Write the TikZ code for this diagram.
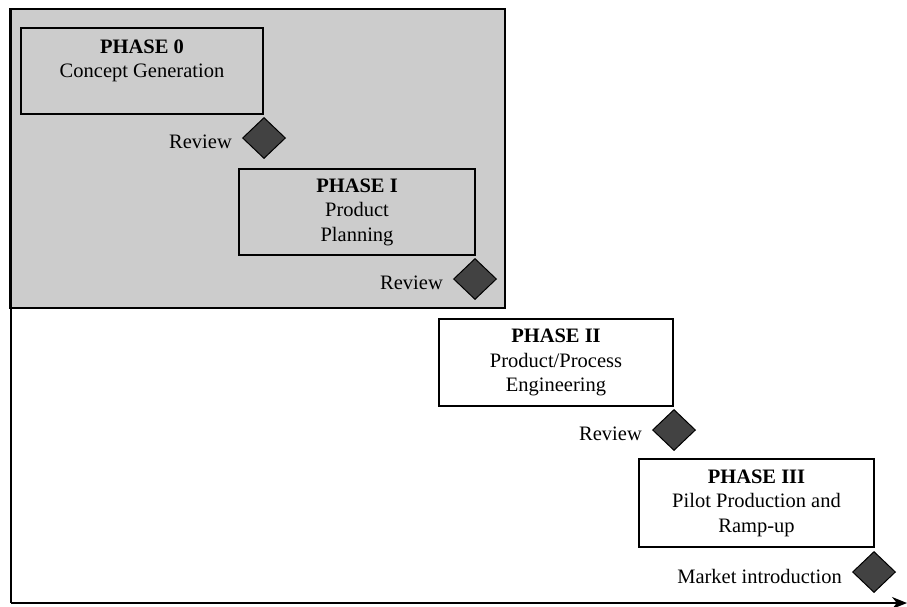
\documentclass[tikz,border=0pt]{standalone}
\usepackage{fontspec}
\setmainfont{Liberation Serif}
\usetikzlibrary{shapes.geometric,arrows.meta}
\definecolor{panelgray}{RGB}{204,204,204}
\definecolor{gatefill}{RGB}{66,66,66}
\tikzset{
  phasebox/.style={draw=black, line width=1.4pt, rectangle, inner sep=0pt,
    align=center, font=\fontsize{20.5}{24.5}\selectfont},
  gate/.style={draw=black, line width=1pt, fill=gatefill, diamond, inner sep=0pt,
    minimum width=43pt, minimum height=41pt},
  gatelabel/.style={anchor=east, inner sep=0pt, font=\fontsize{20.5}{24.5}\selectfont},
  axis/.style={line width=1.8pt, draw=black}
}
\begin{document}
\begin{tikzpicture}[x=1pt,y=-1pt]
  \useasboundingbox (0,0) rectangle (907,606);
  % early phases panel
  \fill[panelgray] (10,9) rectangle (505,308);
  \draw[line width=1.8pt] (10,9) rectangle (505,308);
  % time axes
  \coordinate (top) at (11,9);
  \coordinate (origin) at (11,603);
  \coordinate (tend) at (907,603);
  \draw[axis] (top) -- (origin);
  \draw[axis, -{Stealth[length=15pt,width=12pt]}] (origin) -- (tend);

  % phases
  \node[phasebox, minimum width=242pt, minimum height=86pt] (p0) at (142,71)
    {\textbf{PHASE 0}\\Concept Generation\\\mbox{}};
  \node[phasebox, minimum width=236pt, minimum height=86pt] (p1) at (357,212)
    {\textbf{PHASE I}\\Product\\Planning};
  \node[phasebox, minimum width=234pt, minimum height=87pt] (p2) at (556,362.5)
    {\textbf{PHASE II}\\Product/Process\\Engineering};
  \node[phasebox, minimum width=235pt, minimum height=88pt] (p3) at (756.5,503)
    {\textbf{PHASE III}\\Pilot Production and\\Ramp-up};

  % review gates
  \node[gate] (g0) at (264,138) {};
  \node[gate] (g1) at (475,279) {};
  \node[gate] (g2) at (674,430) {};
  \node[gate] (g3) at (874,572) {};
  \node[gatelabel] (l0) at ([xshift=-10pt,yshift=-4pt]g0.west) {Review};
  \node[gatelabel] (l1) at ([xshift=-10pt,yshift=-4pt]g1.west) {Review};
  \node[gatelabel] (l2) at ([xshift=-10pt,yshift=-4pt]g2.west) {Review};
  \node[gatelabel] (l3) at ([xshift=-10pt,yshift=-4pt]g3.west) {Market introduction};
\end{tikzpicture}
\end{document}
